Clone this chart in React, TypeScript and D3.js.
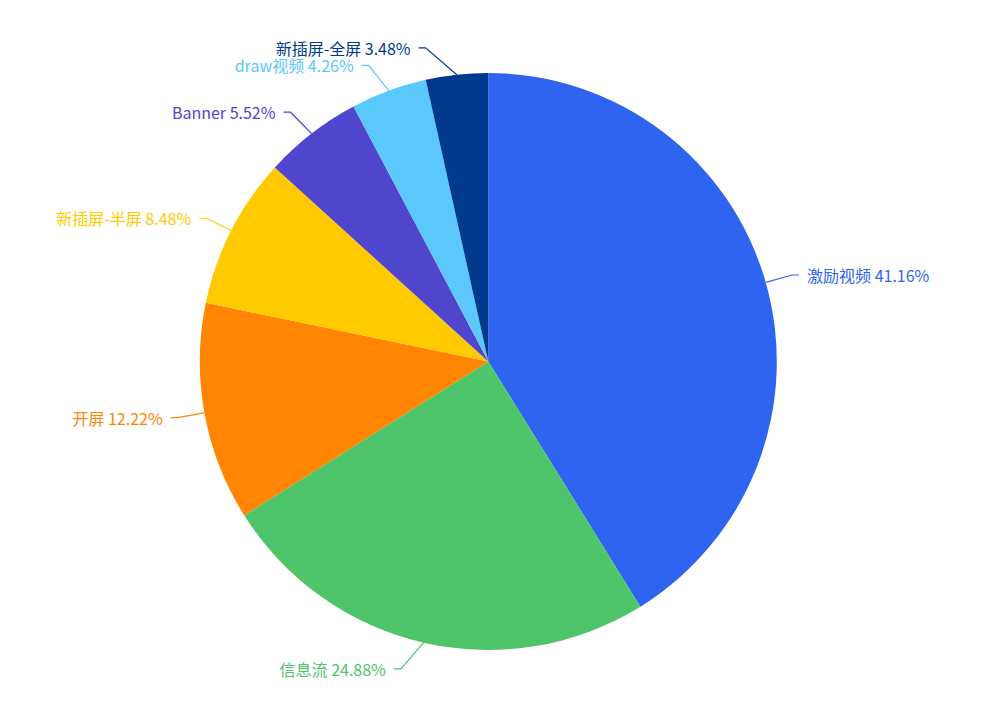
import React from "react";
import * as d3 from "d3";

const categories = ["激励视频", "信息流", "开屏", "新插屏-半屏", "Banner", "draw视频", "新插屏-全屏"];
const shares = [41.16, 24.88, 12.22, 8.48, 5.52, 4.26, 3.48];
const colors = ["#2F64F1", "#4EC56B", "#FF8502", "#FFCA00", "#5046CE", "#5AC8FA", "#003A8D"];

const W = 992;
const H = 708;
const CX = 488.3;
const CY = 361.5;
const R = 288.5;
const LINE1 = 27; // radial part of the leader line
const LINE2 = 7; // horizontal part of the leader line
const TEXT_GAP = 8;
const ELLIPSE_RB = 320; // vertical semi-axis of the curve the elbows sit on

type Row = { name: string; value: number; color: string };

const rows: Row[] = categories.map((name, i) => ({ name, value: shares[i], color: colors[i] }));

export default function App() {
  const pie = d3
    .pie<Row>()
    .value((d) => d.value)
    .sort(null)
    .startAngle(0)
    .endAngle(2 * Math.PI);
  const arcs = pie(rows);
  const arcGen = d3.arc<d3.PieArcDatum<Row>>().innerRadius(0).outerRadius(R);

  const rA = R + LINE1;

  return (
    <svg
      width={W}
      height={H}
      style={{ position: "absolute", left: 0, top: 0, background: "#ffffff" }}
      fontFamily="'Noto Sans CJK SC', 'Noto Sans', sans-serif"
    >
      <g transform={`translate(${CX},${CY})`}>
        {arcs.map((a, i) => (
          <path key={i} d={arcGen(a) || ""} fill={a.data.color} />
        ))}
      </g>
      {arcs.map((a, i) => {
        const mid = (a.startAngle + a.endAngle) / 2;
        const sx = Math.sin(mid);
        const sy = -Math.cos(mid);
        const dir = sx >= 0 ? 1 : -1;
        const x0 = CX + R * sx;
        const y0 = CY + R * sy;
        const dy = rA * sy;
        const dx = rA * Math.sqrt(Math.max(0, 1 - (dy * dy) / (ELLIPSE_RB * ELLIPSE_RB)));
        const x1 = CX + dir * dx;
        const y1 = CY + dy;
        const x2 = x1 + dir * LINE2;
        const tx = x2 + dir * TEXT_GAP;
        return (
          <g key={i}>
            <polyline
              points={`${x0},${y0} ${x1},${y1} ${x2},${y1}`}
              fill="none"
              stroke={a.data.color}
              strokeWidth={1.2}
            />
            <text
              x={tx}
              y={y1}
              fill={a.data.color}
              fontSize={16}
              dominantBaseline="central"
              textAnchor={dir > 0 ? "start" : "end"}
            >
              {`${a.data.name} ${d3.format(".2f")(a.data.value)}%`}
            </text>
          </g>
        );
      })}
    </svg>
  );
}
